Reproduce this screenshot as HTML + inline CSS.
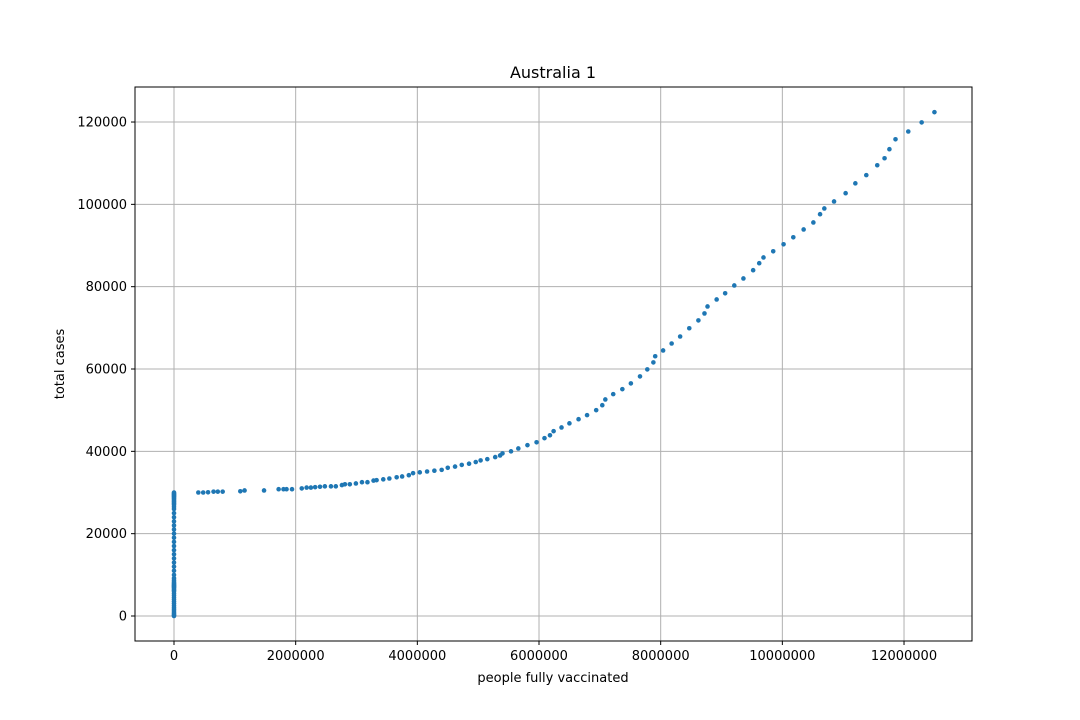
<!DOCTYPE html>
<html><head><meta charset="utf-8"><style>
body{margin:0;background:#fff}
svg{display:block;font-family:"DejaVu Sans","Liberation Sans",sans-serif}
</style></head><body>
<svg id="chart" width="1080" height="720" viewBox="0 0 1080 720">
<rect width="1080" height="720" fill="#fff"/>
<g id="grid"></g>
<g id="points"></g>
<rect x="135" y="87" width="837" height="554" fill="none" stroke="#000" stroke-width="1"/>
<g id="ticks"></g>
<text x="553" y="78" text-anchor="middle" font-size="16">Australia 1</text>
<text x="553" y="682" text-anchor="middle" font-size="13">people fully vaccinated</text>
<text transform="translate(64,364) rotate(-90)" text-anchor="middle" font-size="13">total cases</text>
</svg>
<script>
const xTicks=[0,2000000,4000000,6000000,8000000,10000000,12000000];
const yTicks=[0,20000,40000,60000,80000,100000,120000];
const zeroCases=[0,0.2,0.5,0.8,1.2,1.6,2,2.5,3,3.5,4,4.5,5,5.5,6,6.3,6.6,6.9,7.1,7.3,7.5,7.7,8,8.3,8.7,9.2,10,11,12,13,14,15,16,17,18,19,20,21,22,23,24,25,26,26.5,27,27.3,27.6,27.9,28.2,28.5,28.8,29,29.2,29.4,29.6,29.8,30];
const vacc=[0.40,0.48,0.56,0.65,0.72,0.80,1.09,1.16,1.48,1.72,1.80,1.85,1.94,2.10,2.18,2.25,2.32,2.40,2.48,2.58,2.66,2.76,2.81,2.89,2.99,3.09,3.18,3.28,3.33,3.44,3.54,3.66,3.75,3.86,3.93,4.04,4.16,4.28,4.40,4.50,4.62,4.73,4.85,4.96,5.04,5.15,5.28,5.36,5.40,5.54,5.66,5.81,5.96,6.09,6.18,6.24,6.37,6.50,6.65,6.79,6.94,7.04,7.09,7.22,7.37,7.51,7.66,7.78,7.88,7.91,8.04,8.18,8.32,8.47,8.62,8.72,8.77,8.92,9.06,9.21,9.36,9.52,9.62,9.69,9.85,10.02,10.18,10.35,10.51,10.62,10.69,10.85,11.04,11.20,11.38,11.56,11.68,11.76,11.86,12.07,12.29,12.50];
const cases=[30.0,30.0,30.05,30.2,30.2,30.2,30.3,30.5,30.5,30.8,30.8,30.8,30.8,31.0,31.2,31.2,31.3,31.4,31.5,31.5,31.5,31.8,32.0,32.0,32.2,32.5,32.5,32.9,33.0,33.2,33.4,33.7,33.9,34.2,34.7,34.9,35.1,35.3,35.5,36.0,36.3,36.7,37.0,37.4,37.8,38.1,38.6,39.0,39.5,40.0,40.7,41.5,42.2,43.2,43.9,44.9,45.8,46.8,47.8,48.8,50.0,51.2,52.6,53.9,55.1,56.5,58.2,59.9,61.6,63.1,64.5,66.2,67.9,69.9,71.8,73.5,75.2,76.9,78.4,80.3,82.0,84.0,85.7,87.1,88.6,90.3,92.0,93.9,95.6,97.6,99.0,100.7,102.7,105.1,107.1,109.5,111.2,113.4,115.8,117.7,119.9,122.4];
const NS="http://www.w3.org/2000/svg";
const sx=v=>174+v/2000000*121.67;
const sy=v=>616-v/20000*82.33;
function mk(t,a,p){const e=document.createElementNS(NS,t);for(const k in a)e.setAttribute(k,a[k]);p.appendChild(e);return e;}
const grid=document.getElementById('grid'),ticks=document.getElementById('ticks'),pts=document.getElementById('points');
xTicks.forEach(v=>{const x=sx(v);
 const g=mk('line',{x1:x,x2:x,y1:87,y2:641,stroke:'#b0b0b0','stroke-width':1},grid);
 
 
 mk('line',{x1:x,x2:x,y1:641,y2:645,stroke:'#000'},ticks);
 const t=mk('text',{x:x,y:660,'text-anchor':'middle','font-size':13},ticks);t.textContent=String(v);
 
 
});
yTicks.forEach(v=>{const y=sy(v);
 const g=mk('line',{x1:135,x2:972,y1:y,y2:y,stroke:'#b0b0b0','stroke-width':1},grid);
 
 
 mk('line',{x1:131,x2:135,y1:y,y2:y,stroke:'#000'},ticks);
 const t=mk('text',{x:127,y:y+4.5,'text-anchor':'end','font-size':13},ticks);t.textContent=String(v);
 
 
});
zeroCases.forEach(c=>{
 const p=mk('circle',{cx:sx(0),cy:sy(c*1000),r:2.3,fill:'#1f77b4'},pts);
 
 
});
vacc.forEach((v,i)=>{
 const p=mk('circle',{cx:sx(v*1e6),cy:sy(cases[i]*1000),r:2.3,fill:'#1f77b4'},pts);
 
 
});
</script>
</body></html>
